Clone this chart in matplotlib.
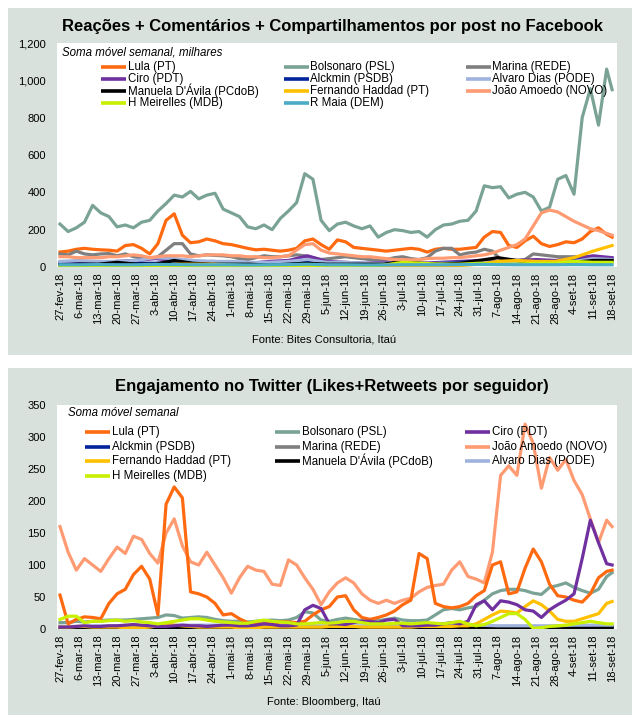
import numpy as np
import matplotlib
matplotlib.use('Agg')
import matplotlib.pyplot as plt
from matplotlib.patches import Rectangle
from matplotlib.lines import Line2D

plt.rcParams['font.family'] = ['Liberation Sans', 'DejaVu Sans']

# ---------------- data ----------------
# day offsets from 27-fev-18 (3-day sampling, plus last day) and weekly sampling
dias = np.r_[np.arange(0, 202, 3), 203]
semanas = np.arange(0, 204, 7)
rotulos_x = ['27-fev-18', '6-mar-18', '13-mar-18', '20-mar-18', '27-mar-18', '3-abr-18',
             '10-abr-18', '17-abr-18', '24-abr-18', '1-mai-18', '8-mai-18', '15-mai-18',
             '22-mai-18', '29-mai-18', '5-jun-18', '12-jun-18', '19-jun-18', '26-jun-18',
             '3-jul-18', '10-jul-18', '17-jul-18', '24-jul-18', '31-jul-18', '7-ago-18',
             '14-ago-18', '21-ago-18', '28-ago-18', '4-set-18', '11-set-18', '18-set-18']

# Facebook (3-day grid)
fb_lula = [80, 85, 95, 100, 95, 92, 90, 85, 115, 120,
           100, 70, 125, 250, 285, 170, 130, 135, 150, 140,
           125, 120, 110, 100, 92, 95, 90, 85, 90, 100,
           140, 150, 120, 95, 145, 135, 105, 100, 95, 90,
           85, 90, 95, 100, 95, 80, 95, 100, 95, 95,
           100, 105, 160, 190, 185, 115, 105, 140, 165, 125,
           110, 120, 135, 130, 150, 190, 210, 175, 160]
fb_bolsonaro = [230, 190, 210, 240, 330, 290, 270, 215, 225, 210,
                240, 250, 300, 340, 385, 375, 405, 365, 385, 395,
                310, 290, 270, 215, 205, 225, 200, 260, 300, 345,
                500, 470, 250, 195, 230, 240, 220, 205, 220, 160,
                185, 200, 195, 185, 190, 160, 200, 225, 230, 245,
                250, 300, 435, 425, 430, 370, 390, 400, 375, 300,
                320, 470, 490, 390, 800, 955, 760, 1060, 950]
fb_marina = [70, 65, 85, 70, 65, 70, 72, 60, 70, 55,
             50, 45, 55, 90, 125, 125, 70, 60, 65, 62,
             60, 55, 45, 40, 50, 60, 55, 55, 60, 65,
             60, 50, 40, 45, 50, 55, 50, 45, 40, 35,
             40, 50, 55, 45, 40, 50, 85, 100, 100, 65,
             75, 80, 95, 85, 40, 38, 35, 40, 70, 65,
             60, 55, 55, 55, 55, 50, 50, 48, 45]
fb_amoedo = [55, 55, 50, 50, 50, 50, 55, 55, 60, 65,
             60, 50, 55, 60, 60, 60, 55, 60, 65, 65,
             65, 60, 60, 55, 55, 50, 50, 55, 60, 90,
             120, 125, 90, 75, 70, 65, 60, 55, 55, 50,
             45, 40, 40, 38, 40, 45, 47, 47, 50, 50,
             55, 60, 65, 75, 90, 105, 120, 150, 220, 290,
             305, 295, 270, 245, 225, 205, 195, 180, 170]
# Facebook (weekly grid)
fb_ciro = [25, 20, 25, 30, 35, 45, 35, 25, 30, 25, 20, 30, 35, 60, 30,
           25, 20, 25, 20, 20, 25, 30, 35, 30, 35, 40, 35, 45, 60, 50]
fb_alckmin = [15, 15, 15, 15, 20, 20, 25, 20, 15, 15, 15, 15, 20, 30, 20,
              15, 15, 15, 15, 15, 20, 25, 30, 25, 25, 30, 30, 35, 40, 35]
fb_alvaro = [30, 35, 30, 30, 35, 50, 45, 35, 30, 30, 25, 25, 30, 40, 25,
             25, 20, 20, 20, 15, 20, 20, 25, 25, 20, 25, 25, 30, 45, 40]
fb_manuela = [10, 15, 15, 25, 15, 15, 35, 20, 15, 15, 15, 10, 15, 20, 15,
              15, 15, 15, 30, 20, 15, 20, 35, 50, 35, 25, 20, 25, 35, 35]
fb_haddad = [2, 2, 2, 3, 3, 5, 15, 15, 15, 10, 5, 5, 5, 8, 5,
             5, 5, 3, 5, 5, 5, 8, 15, 30, 35, 30, 30, 50, 85, 115]
fb_meirelles = [5, 5, 5, 3, 5, 5, 8, 5, 5, 5, 5, 5, 5, 10, 5,
                5, 5, 10, 25, 20, 15, 15, 20, 15, 15, 20, 20, 30, 25, 25]
fb_maia = [12, 12, 13, 12, 12, 14, 13, 12, 12, 12, 11, 12, 13, 15, 12,
           12, 11, 11, 12, 12, 12, 13, 14, 13, 12, 12, 12, 13, 12, 12]

# Twitter (3-day grid)
tw_lula = [53, 8, 15, 19, 18, 16, 40, 55, 62, 85,
           98, 78, 22, 195, 222, 205, 58, 55, 50, 40,
           22, 24, 16, 10, 8, 8, 9, 11, 11, 10,
           12, 22, 30, 35, 50, 52, 30, 18, 15, 18,
           22, 28, 38, 45, 118, 110, 40, 35, 33, 35,
           40, 52, 60, 100, 105, 55, 58, 95, 125, 105,
           70, 52, 50, 45, 42, 55, 80, 90, 92]
tw_amoedo = [160, 120, 92, 110, 100, 90, 110, 128, 118, 145,
             140, 118, 103, 150, 172, 130, 105, 100, 120, 100,
             80, 56, 80, 98, 92, 90, 70, 68, 108, 100,
             80, 62, 38, 58, 72, 80, 72, 55, 45, 40,
             45, 40, 45, 48, 58, 65, 68, 70, 92, 105,
             82, 78, 72, 120, 240, 255, 240, 320, 290, 220,
             268, 248, 265, 232, 210, 172, 135, 170, 160]
tw_bolsonaro = [10, 10, 12, 11, 12, 13, 14, 14, 14, 15,
                16, 17, 18, 22, 21, 17, 18, 19, 18, 15,
                13, 12, 12, 11, 12, 13, 14, 13, 14, 18,
                27, 25, 14, 12, 15, 17, 15, 13, 14, 13,
                15, 17, 14, 13, 13, 14, 22, 30, 32, 30,
                33, 35, 45, 55, 60, 62, 62, 60, 56, 54,
                65, 68, 72, 65, 60, 56, 62, 82, 88]
tw_ciro = [3, 3, 4, 5, 4, 4, 5, 5, 6, 7,
           6, 5, 4, 4, 5, 6, 5, 5, 4, 5,
           6, 6, 5, 5, 6, 8, 7, 5, 5, 6,
           30, 37, 32, 8, 8, 7, 10, 12, 12, 10,
           14, 15, 5, 5, 5, 6, 6, 8, 10, 8,
           12, 38, 44, 30, 44, 42, 38, 30, 28, 18,
           30, 38, 45, 55, 110, 170, 135, 102, 100]
tw_meirelles = [15, 20, 20, 10, 12, 12, 13, 14, 12, 13,
                11, 10, 8, 10, 12, 14, 16, 16, 14, 12,
                11, 10, 9, 9, 12, 14, 12, 11, 10, 8,
                8, 9, 10, 9, 10, 12, 12, 10, 8, 8,
                8, 9, 9, 8, 9, 10, 9, 8, 10, 12,
                8, 5, 7, 12, 18, 24, 24, 15, 1, 2,
                4, 5, 6, 8, 10, 12, 10, 8, 8]
tw_haddad = [3, 3, 4, 4, 3, 3, 3, 3, 2, 2,
             2, 3, 5, 8, 6, 5, 4, 3, 3, 3,
             3, 3, 2, 2, 2, 3, 3, 3, 3, 3,
             3, 3, 3, 4, 4, 4, 4, 3, 3, 3,
             3, 3, 3, 3, 4, 4, 4, 4, 4, 5,
             5, 8, 15, 22, 28, 27, 25, 35, 44, 38,
             28, 15, 12, 12, 16, 20, 24, 40, 43]
# Twitter (weekly grid)
tw_alckmin = [2, 2, 2, 3, 3, 2, 2, 2, 3, 3, 2, 2, 2, 3, 3,
              2, 2, 2, 2, 2, 2, 3, 3, 3, 3, 2, 2, 3, 3, 3]
tw_marina = [4, 3, 3, 4, 4, 3, 3, 4, 4, 3, 3, 3, 4, 4, 3,
             3, 3, 3, 3, 4, 3, 3, 3, 4, 4, 4, 3, 3, 4, 4]
tw_manuela = [1, 1, 1, 2, 2, 1, 1, 1, 1, 1, 1, 1, 1, 1, 1,
              1, 1, 1, 1, 1, 1, 2, 2, 2, 2, 1, 1, 1, 2, 2]
tw_alvaro = [4, 4, 5, 5, 5, 5, 6, 6, 6, 6, 5, 5, 5, 5, 5,
             5, 5, 5, 5, 6, 6, 6, 6, 5, 5, 5, 5, 6, 6, 6]

# ---------------- style ----------------
C = {
    'lula': '#ff6a10', 'bolsonaro': '#7aa396', 'marina': '#7f7f7f', 'ciro': '#7030a0',
    'alckmin': '#00249c', 'alvaro': '#9fb3de', 'manuela': '#000000', 'haddad': '#ffc000',
    'amoedo': '#ff9b72', 'meirelles': '#c8f000', 'maia': '#4bacc6',
}
BG = '#d8e1dc'
LW = 2.3

fig = plt.figure(figsize=(6.4, 7.21), dpi=100)
H = 721.0
W = 640.0
for y0, y1 in [(8, 355), (368, 715)]:
    fig.patches.append(Rectangle((8 / W, 1 - y1 / H), 624 / W, (y1 - y0) / H,
                                 transform=fig.transFigure, facecolor=BG,
                                 edgecolor='none', zorder=-10))


def make_ax(top_px, bottom_px):
    ax = fig.add_axes([57 / W, 1 - bottom_px / H, 560 / W, (bottom_px - top_px) / H])
    ax.set_facecolor('white')
    for s in ax.spines.values():
        s.set_visible(False)
    ax.set_xlim(-1.1, 204.8)
    ax.set_xticks(semanas)
    ax.set_xticklabels(rotulos_x, rotation=90, fontsize=8)
    ax.tick_params(axis='x', length=0, pad=4)
    ax.tick_params(axis='y', length=0, pad=8, labelsize=8)
    return ax


def legenda(ax, entries, cols_px, rows_px, top_px, bottom_px):
    hgt = bottom_px - top_px
    for (lab, col), (cx, ry) in zip(entries, [(c, r) for c, r in zip(cols_px, rows_px)]):
        x0 = (cx - 57) / 560
        x1 = (cx + 25 - 57) / 560
        y = (bottom_px - ry) / hgt
        ax.add_line(Line2D([x0, x1], [y, y], transform=ax.transAxes, color=col,
                           lw=2.6, solid_capstyle='butt', clip_on=False, zorder=20))
        ax.text(x1 + 1.5 / 560, y, lab, transform=ax.transAxes, fontsize=8.3,
                va='center', ha='left', zorder=20)


# ---------------- top: Facebook ----------------
T1, B1 = 43, 267
ax1 = make_ax(T1, B1)
ax1.set_ylim(0, 1200)
ax1.set_yticks([0, 200, 400, 600, 800, 1000, 1200])
ax1.set_yticklabels(['0', '200', '400', '600', '800', '1,000', '1,200'])

ax1.plot(dias, fb_lula, color=C['lula'], lw=LW)
ax1.plot(dias, fb_bolsonaro, color=C['bolsonaro'], lw=LW)
ax1.plot(dias, fb_marina, color=C['marina'], lw=LW)
ax1.plot(semanas, fb_ciro, color=C['ciro'], lw=LW)
ax1.plot(semanas, fb_alckmin, color=C['alckmin'], lw=LW)
ax1.plot(semanas, fb_alvaro, color=C['alvaro'], lw=LW)
ax1.plot(semanas, fb_manuela, color=C['manuela'], lw=LW)
ax1.plot(semanas, fb_haddad, color=C['haddad'], lw=LW)
ax1.plot(dias, fb_amoedo, color=C['amoedo'], lw=LW)
ax1.plot(semanas, fb_meirelles, color=C['meirelles'], lw=LW)
ax1.plot(semanas, fb_maia, color=C['maia'], lw=LW)

ax1.text(5 / 560, (B1 - 52) / (B1 - T1), 'Soma móvel semanal, milhares',
         transform=ax1.transAxes, fontsize=8.3, style='italic', va='center', ha='left')
ent1 = [('Lula (PT)', C['lula']), ('Bolsonaro (PSL)', C['bolsonaro']), ('Marina (REDE)', C['marina']),
        ('Ciro (PDT)', C['ciro']), ('Alckmin (PSDB)', C['alckmin']), ('Alvaro Dias (PODE)', C['alvaro']),
        ("Manuela D'Ávila (PCdoB)", C['manuela']), ('Fernando Haddad (PT)', C['haddad']),
        ('João Amoedo (NOVO)', C['amoedo']),
        ('H Meirelles (MDB)', C['meirelles']), ('R Maia (DEM)', C['maia'])]
colsx = [101, 284, 466]
rowsy = [67, 79, 91, 103]
legenda(ax1, ent1, [colsx[i % 3] for i in range(11)], [rowsy[i // 3] for i in range(11)], T1, B1)

fig.text(332 / W, 1 - 27 / H, 'Reações + Comentários + Compartilhamentos por post no Facebook',
         ha='center', va='center', fontsize=12, fontweight='bold')
fig.text(324 / W, 1 - 340 / H, 'Fonte: Bites Consultoria, Itaú', ha='center', va='center', fontsize=8)

# ---------------- bottom: Twitter ----------------
T2, B2 = 405, 629
ax2 = make_ax(T2, B2)
ax2.set_ylim(0, 350)
ax2.set_yticks([0, 50, 100, 150, 200, 250, 300, 350])

ax2.plot(dias, tw_amoedo, color=C['amoedo'], lw=LW)
ax2.plot(dias, tw_bolsonaro, color=C['bolsonaro'], lw=LW)
ax2.plot(semanas, tw_marina, color=C['marina'], lw=LW)
ax2.plot(semanas, tw_alckmin, color=C['alckmin'], lw=LW)
ax2.plot(semanas, tw_manuela, color=C['manuela'], lw=LW)
ax2.plot(semanas, tw_alvaro, color=C['alvaro'], lw=LW)
ax2.plot(dias, tw_haddad, color=C['haddad'], lw=LW)
ax2.plot(dias, tw_lula, color=C['lula'], lw=LW)
ax2.plot(dias, tw_ciro, color=C['ciro'], lw=LW)
ax2.plot(dias, tw_meirelles, color=C['meirelles'], lw=LW)

ax2.text(11 / 560, (B2 - 413) / (B2 - T2), 'Soma móvel semanal',
         transform=ax2.transAxes, fontsize=8.3, style='italic', va='center', ha='left')
ent2 = [('Lula (PT)', C['lula']), ('Bolsonaro (PSL)', C['bolsonaro']), ('Ciro (PDT)', C['ciro']),
        ('Alckmin (PSDB)', C['alckmin']), ('Marina (REDE)', C['marina']), ('João Amoedo (NOVO)', C['amoedo']),
        ('Fernando Haddad (PT)', C['haddad']), ("Manuela D'Ávila (PCdoB)", C['manuela']),
        ('Alvaro Dias (PODE)', C['alvaro']), ('H Meirelles (MDB)', C['meirelles'])]
colsx2 = [85, 275, 465]
rowsy2 = [432, 447, 461, 476]
legenda(ax2, ent2, [colsx2[i % 3] for i in range(10)], [rowsy2[i // 3] for i in range(10)], T2, B2)

fig.text(332 / W, 1 - 387 / H, 'Engajamento no Twitter (Likes+Retweets por seguidor)',
         ha='center', va='center', fontsize=12, fontweight='bold')
fig.text(324 / W, 1 - 702 / H, 'Fonte: Bloomberg, Itaú', ha='center', va='center', fontsize=8)

fig.savefig('out.png', dpi=100, facecolor='white')
